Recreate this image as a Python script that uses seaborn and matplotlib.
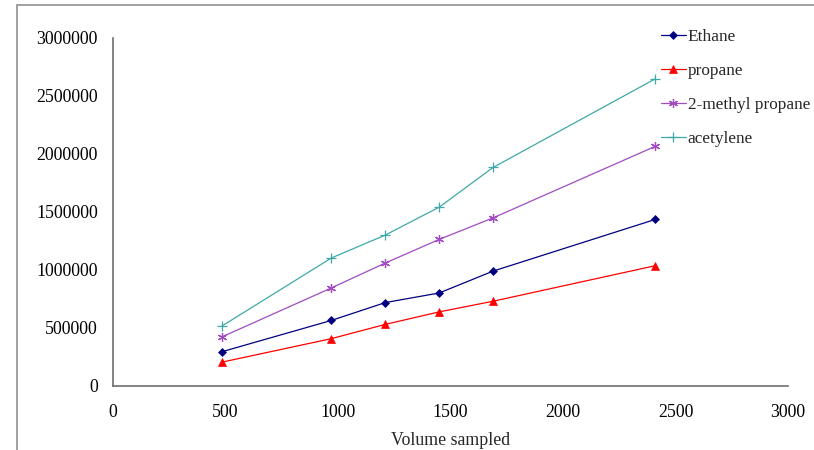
import pandas as pd
import matplotlib
matplotlib.use("Agg")
import matplotlib.pyplot as plt
import seaborn as sns
from matplotlib.patches import Rectangle

# Data
volume = [485, 970, 1210, 1450, 1690, 2410]
ethane = [296000, 565000, 719000, 802000, 991000, 1436000]
propane = [206000, 408000, 531000, 639000, 731000, 1037000]
methyl_propane = [424000, 845000, 1060000, 1264000, 1450000, 2066000]
acetylene = [518000, 1103000, 1301000, 1542000, 1885000, 2648000]

series_names = ["Ethane", "propane", "2-methyl propane", "acetylene"]
x_ticks = [0, 500, 1000, 1500, 2000, 2500, 3000]
y_ticks = [0, 500000, 1000000, 1500000, 2000000, 2500000, 3000000]

df = pd.DataFrame({
    "volume": volume * 4,
    "area": ethane + propane + methyl_propane + acetylene,
    "gas": [n for n in series_names for _ in volume],
})

sns.set_theme(style="white")
plt.rcParams["font.family"] = ["Liberation Serif", "DejaVu Serif"]

palette = {"Ethane": "#000080", "propane": "#ff0000",
           "2-methyl propane": "#a04cc0", "acetylene": "#40a8a8"}
markers = {"Ethane": "D", "propane": "^", "2-methyl propane": (6, 2, 0),
           "acetylene": "+"}
msize = {"Ethane": 4.5, "propane": 6, "2-methyl propane": 6.5, "acetylene": 6.5}
fs = 12.8

fig = plt.figure(figsize=(8.14, 4.5), dpi=100)
ax = fig.add_axes([113 / 814, 64 / 450, 675 / 814, 348 / 450])

for name in series_names:
    sub = df[df["gas"] == name]
    sns.lineplot(data=sub, x="volume", y="area", ax=ax, color=palette[name],
                 marker=markers[name], markersize=msize[name], linewidth=0.9,
                 markeredgewidth=0.9 if name in ("acetylene", "2-methyl propane") else 0.5,
                 markeredgecolor=palette[name], label=name)

ax.set_xlim(0, 3000)
ax.set_ylim(0, 3000000)
ax.set_xticks(x_ticks)
ax.set_yticks(y_ticks)
ax.set_xticklabels([str(t) for t in x_ticks])
ax.set_yticklabels([str(t) for t in y_ticks])
ax.tick_params(axis="both", length=0, labelsize=fs, colors="black")
ax.tick_params(axis="x", pad=13)
ax.tick_params(axis="y", pad=11)
ax.set_xlabel("Volume sampled", fontsize=fs, labelpad=8)
ax.set_ylabel("")

for side in ["top", "right"]:
    ax.spines[side].set_visible(False)
for side in ["left", "bottom"]:
    ax.spines[side].set_color("#6e6e6e")
    ax.spines[side].set_linewidth(1.2)

ax.legend(loc="upper left", bbox_to_anchor=(661 / 814, 1 - 29 / 450),
          bbox_transform=fig.transFigure, frameon=False, fontsize=12.4,
          handlelength=1.45, handletextpad=0.1, labelspacing=1.05,
          borderpad=0, borderaxespad=0)

# outer chart frame (only left and top edges fall inside the picture)
fig.patches.append(Rectangle((17 / 814, -0.1), 1.0, 1.1 - 5 / 450,
                             transform=fig.transFigure, fill=False,
                             edgecolor="#909090", linewidth=1.2))

fig.savefig("out.png", dpi=100)
